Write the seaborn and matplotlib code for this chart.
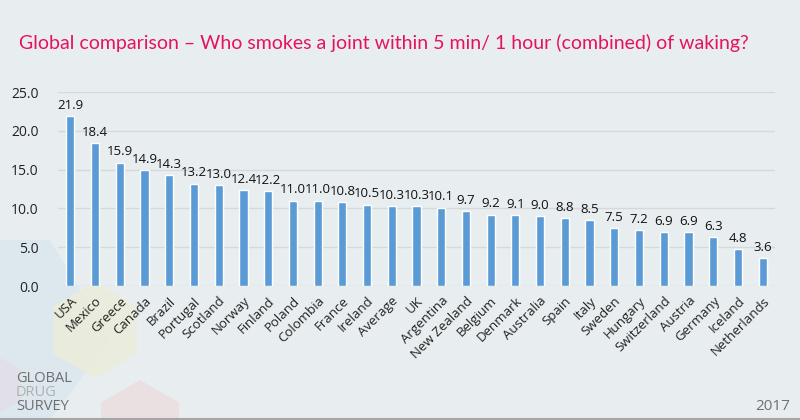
import matplotlib
matplotlib.use("Agg")
import matplotlib.pyplot as plt
import seaborn as sns
import pandas as pd
from matplotlib.patches import RegularPolygon, Polygon

countries = ["USA", "Mexico", "Greece", "Canada", "Brazil", "Portugal", "Scotland",
             "Norway", "Finland", "Poland", "Colombia", "France", "Ireland", "Average",
             "UK", "Argentina", "New Zealand", "Belgium", "Denmark", "Australia", "Spain",
             "Italy", "Sweden", "Hungary", "Switzerland", "Austria", "Germany", "Iceland",
             "Netherlands"]
values = [21.9, 18.4, 15.9, 14.9, 14.3, 13.2, 13.0, 12.4, 12.2, 11.0, 11.0, 10.8, 10.5,
          10.3, 10.3, 10.1, 9.7, 9.2, 9.1, 9.0, 8.8, 8.5, 7.5, 7.2, 6.9, 6.9, 6.3, 4.8, 3.6]
yticks = [0, 5, 10, 15, 20, 25]

title = "Global comparison \u2013 Who smokes a joint within 5 min/ 1 hour (combined) of waking?"

df = pd.DataFrame({"country": countries, "value": values})

sns.set_theme(style="white")
plt.rcParams["font.family"] = ["Open Sans", "DejaVu Sans"]

bg = "#E8EEF0"
fig = plt.figure(figsize=(8, 4.2), dpi=100, facecolor=bg)

# decorative background shapes (figure pixel coords)
deco = fig.add_axes([0, 0, 1, 1], zorder=0)
deco.set_xlim(0, 800)
deco.set_ylim(420, 0)
deco.axis("off")
deco.add_patch(Polygon([(0, 240), (50, 240), (110, 340), (50, 420), (0, 420)],
                       facecolor="#DCE7EE", edgecolor="none"))
deco.add_patch(RegularPolygon((95, 330), 6, radius=48, orientation=0.0,
                              facecolor="#EBECDC", edgecolor="none", alpha=0.9))
deco.add_patch(RegularPolygon((140, 425), 6, radius=45, orientation=0.0,
                              facecolor="#EBDDDF", edgecolor="none", alpha=0.8))
deco.add_patch(RegularPolygon((-5, 385), 6, radius=30, orientation=0.0,
                              facecolor="#E3DEE6", edgecolor="none", alpha=0.8))
deco.plot([0, 800], [418.5, 418.5], color="#A6A6A6", lw=1.5)

ax = fig.add_axes([58 / 800, 1 - 286 / 420, (775 - 58) / 800, (286 - 92) / 420], zorder=1)
ax.set_facecolor("none")

sns.barplot(data=df, x="country", y="value", color="#5B9BD5", width=0.33,
            saturation=1, ax=ax, zorder=3)

ax.set_ylim(0, 25)
ax.set_xlim(-0.5, len(countries) - 0.5)
ax.set_yticks(yticks)
ax.set_yticklabels([f"{t:.1f}" for t in yticks], fontsize=10, color="#222222")
ax.yaxis.grid(True, color="#D5D9DB", lw=1)
ax.set_axisbelow(True)
for s in ax.spines.values():
    s.set_visible(False)
ax.tick_params(axis="both", length=0, pad=6)
ax.tick_params(axis="y", pad=14)
ax.set_xlabel("")
ax.set_ylabel("")
ax.set_xticks(range(len(countries)))
ax.set_xticklabels(countries, rotation=45, ha="right", rotation_mode="anchor",
                   fontsize=9.5, color="#222222")

for c in ax.containers:
    ax.bar_label(c, labels=[f"{v:.1f}" for v in values], padding=3,
                 fontsize=9.5, color="#111111")

fig.text(19 / 800, 1 - 43 / 420, title, fontsize=14, color="#E6125D",
         ha="left", va="center", family=["Lato", "DejaVu Sans"])

fig.text(16 / 800, 1 - 378 / 420, "GLOBAL", fontsize=10.5, color="#6E6E6E",
         ha="left", va="center")
fig.text(16 / 800, 1 - 392 / 420, "DRUG", fontsize=10.5, color="#B0B0B0",
         ha="left", va="center")
fig.text(16 / 800, 1 - 406 / 420, "SURVEY", fontsize=10.5, color="#6E6E6E",
         ha="left", va="center")
fig.text(790 / 800, 1 - 407 / 420, "2017", fontsize=11, color="#707070",
         ha="right", va="center")

fig.savefig("out.png", dpi=100, facecolor=bg)
